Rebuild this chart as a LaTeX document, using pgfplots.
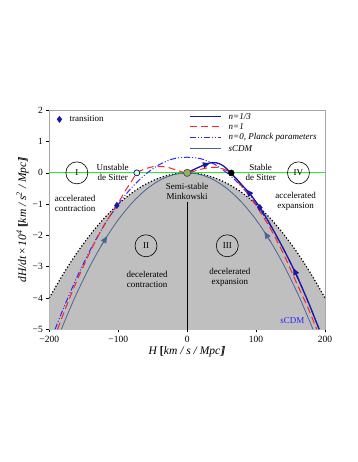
\documentclass[border=0pt]{standalone}
\usepackage{fontspec}
\setmainfont{Liberation Serif}
\usepackage{pgfplots}
\pgfplotsset{compat=1.18}
\usetikzlibrary{arrows.meta}

\definecolor{ncol}{RGB}{25,25,165}   % n=1/3
\definecolor{rcol}{RGB}{255,35,35}   % n=1
\definecolor{pcol}{RGB}{40,40,255}   % n=0 Planck
\definecolor{scol}{RGB}{75,100,150}  % sCDM
\definecolor{gcol}{RGB}{40,235,40}
\definecolor{ocol}{RGB}{150,180,90}
\newcommand{\dbl}[1]{[\kern-0.3em[#1]\kern-0.3em]}
\tikzset{
  ln13/.style={color=ncol, line width=1.3pt},
  ln1/.style={color=rcol, line width=1pt, dash pattern=on 7pt off 4pt},
  ln0/.style={color=pcol, line width=1pt, dash pattern=on 6pt off 2pt on 1pt off 2pt on 1pt off 2pt},
  lns/.style={color=scol, line width=0.8pt},
}

\begin{document}
\begin{tikzpicture}[
  lab/.style={font=\fontsize{9}{10}\selectfont, align=center},
  key/.style={font=\fontsize{9}{10}\selectfont\itshape, anchor=west, inner sep=0pt},
  zone/.style={draw, circle, minimum size=22pt, inner sep=0pt, line width=0.6pt,
    font=\fontsize{9}{10}\selectfont},
]
\useasboundingbox (-49.3pt,-132.7pt) rectangle (307.7pt,329.3pt);
\begin{axis}[
  at={(0,0)}, anchor=south west,
  width=275.7pt, height=219pt, scale only axis,
  xmin=-200, xmax=200, ymin=-5, ymax=2,
  xtick={-200,-100,0,100,200},
  xticklabels={−200,−100,0,100,200},
  ytick={-5,-4,-3,-2,-1,0,1,2},
  yticklabels={−5,−4,−3,−2,−1,0,1,2},
  tick label style={font=\fontsize{9.5}{10}\selectfont},
  tick pos=left, tick align=outside, major tick length=3pt,
  tick style={black, line width=0.5pt},
  axis line style={gray!70, line width=1pt},
  xlabel={{\itshape H} \dbl{\itshape km / s / Mpc}},
  ylabel={{\itshape dH/dt}\,×\,{\itshape 10\textsuperscript{4}} \dbl{\itshape km / s\textsuperscript{2} / Mpc}},
  xlabel style={at={(axis description cs:0.5,-0.104)}, anchor=center,
    font=\fontsize{11.5}{12}\selectfont},
  ylabel style={at={(axis description cs:-0.097,0.5)}, anchor=center,
    font=\fontsize{11.5}{12}\selectfont},
]

% decelerated region below dH/dt = -H^2
\addplot[fill=gray!50, draw=none, forget plot] coordinates {
  (-200,-5.5) (-200,-4) (-190,-3.61) (-180,-3.24) (-170,-2.89) (-160,-2.56)
  (-150,-2.25) (-140,-1.96) (-130,-1.69) (-120,-1.44) (-110,-1.21) (-100,-1)
  (-90,-0.81) (-80,-0.64) (-70,-0.49) (-60,-0.36) (-50,-0.25) (-40,-0.16)
  (-30,-0.09) (-20,-0.04) (-10,-0.01) (0,0) (10,-0.01) (20,-0.04) (30,-0.09)
  (40,-0.16) (50,-0.25) (60,-0.36) (70,-0.49) (80,-0.64) (90,-0.81) (100,-1)
  (110,-1.21) (120,-1.44) (130,-1.69) (140,-1.96) (150,-2.25) (160,-2.56)
  (170,-2.89) (180,-3.24) (190,-3.61) (200,-4) (200,-5.5)} -- cycle;

\addplot[black, line width=1.2pt, dotted, smooth, forget plot] coordinates {
  (-200,-4) (-180,-3.24) (-160,-2.56) (-140,-1.96) (-120,-1.44) (-100,-1)
  (-80,-0.64) (-60,-0.36) (-40,-0.16) (-20,-0.04) (0,0) (20,-0.04) (40,-0.16)
  (60,-0.36) (80,-0.64) (100,-1) (120,-1.44) (140,-1.96) (160,-2.56)
  (180,-3.24) (200,-4)};

\addplot[gcol, line width=1pt, forget plot] coordinates {(-200,0) (200,0)};
\addplot[black, line width=0.6pt, forget plot] coordinates {(0,-0.93) (0,-5.2)};

% sCDM
\addplot[lns, smooth, forget plot] coordinates {
  (-182.6,-5) (-170,-4.34) (-160,-3.84) (-140,-2.94) (-120,-2.16) (-100,-1.5)
  (-80,-0.96) (-60,-0.54) (-40,-0.24) (-20,-0.06) (0,0) (20,-0.06) (40,-0.24)
  (60,-0.54) (80,-0.96) (100,-1.5) (120,-2.16) (140,-2.94) (160,-3.84)
  (170,-4.34) (182.6,-5)};

% n=0, Planck parameters
\addplot[ln0, smooth, forget plot] coordinates {
  (-191.6,-5) (-180,-4.36) (-160,-3.34) (-140,-2.44) (-120,-1.66) (-100,-1.0)
  (-80,-0.46) (-60,-0.04) (-40,0.27) (-20,0.45) (0,0.5) (20,0.45) (40,0.27)
  (60,-0.04) (80,-0.46) (100,-1.0) (120,-1.66) (140,-2.44) (160,-3.34)
  (180,-4.36) (191.6,-5)};

% n=1
\addplot[ln1, smooth, forget plot] coordinates {
  (-188,-5) (-175,-4.25) (-160,-3.45) (-140,-2.49) (-120,-1.65) (-102,-1.04)
  (-90,-0.58) (-80,-0.25) (-73,0) (-63,0.11) (-53,0.18) (-44,0.21) (-29,0.18)
  (-14.5,0.08) (0,0) (14,0.08) (27,0.15) (40,0.18) (48,0.16) (57,0.08) (64,0)
  (72,-0.25) (80,-0.45) (90,-0.74) (100,-1.05) (120,-1.75) (140,-2.6)
  (160,-3.58) (175,-4.3) (188,-5)};

% n=1/3
\addplot[ln13, smooth, forget plot] coordinates {
  (0,0) (10,0.11) (20,0.21) (30,0.3) (38,0.33) (46,0.3) (54,0.2) (63,0)
  (72,-0.2) (80,-0.4) (90,-0.64) (100,-0.93) (105.5,-1.1) (120,-1.63)
  (140,-2.44) (157.6,-3.22) (175,-4.09) (191.5,-5)};

% flow arrows
\addplot[ncol, line width=1.2pt, -{Triangle[length=7pt,width=6pt]}, forget plot]
  coordinates {(22,0.23) (33,0.31)};
\addplot[ncol, line width=1.2pt, -{Triangle[length=7pt,width=6pt]}, forget plot]
  coordinates {(95,-0.78) (86,-0.53)};
\addplot[ncol, line width=1.2pt, -{Triangle[length=7pt,width=6pt]}, forget plot]
  coordinates {(162,-3.42) (154,-3.04)};
\addplot[scol, line width=0.8pt, -{Triangle[length=7pt,width=6pt]}, forget plot]
  coordinates {(121,-2.2) (112,-1.88)};
\addplot[scol, line width=0.8pt, -{Triangle[length=7pt,width=6pt]}, forget plot]
  coordinates {(-125,-2.34) (-116,-2.02)};

% key of the four curves (line samples drawn in the axis; the legend
% matrix lost the stroke colours under xdvipdfmx)
\addplot[ln13, forget plot] coordinates {(4.8,1.81) (48.4,1.81)};
\addplot[ln1, forget plot] coordinates {(4.8,1.47) (48.4,1.47)};
\addplot[ln0, forget plot] coordinates {(4.8,1.12) (48.4,1.12)};
\addplot[lns, forget plot] coordinates {(4.8,0.78) (48.4,0.78)};
\node[key] at (axis cs:60,1.81) {n=1/3};
\node[key] at (axis cs:60,1.47) {n=1};
\node[key] at (axis cs:60,1.12) {n=0, Planck parameters};
\node[key] at (axis cs:60,0.78) {sCDM};

% annotations
\node[zone] at (axis cs:-160,0) {I};
\node[zone] at (axis cs:161.5,0) {IV};
\node[zone] at (axis cs:-59.7,-2.33) {II};
\node[zone] at (axis cs:58.2,-2.33) {III};
\node[lab] at (axis cs:-162.5,-0.98) {accelerated\\contraction};
\node[lab] at (axis cs:-108,0) {Unstable\\de Sitter};
\node[lab] at (axis cs:0,-0.6) {Semi-stable\\Minkowski};
\node[lab] at (axis cs:106.7,0) {Stable\\de Sitter};
\node[lab] at (axis cs:157.5,-0.9) {accelerated\\expansion};
\node[lab] at (axis cs:-58,-3.4) {decelerated\\contraction};
\node[lab] at (axis cs:62,-3.35) {decelerated\\expansion};
\node[lab, text=pcol] at (axis cs:152.7,-4.73) {sCDM};
\end{axis}

% markers on top, with their own legend
\begin{axis}[
  at={(0,0)}, anchor=south west,
  width=275.7pt, height=219pt, scale only axis,
  xmin=-200, xmax=200, ymin=-5, ymax=2,
  hide axis, clip=false,
  legend cell align=left,
  legend style={draw=none, fill=none, at={(0.01,0.995)}, anchor=north west,
    font=\fontsize{9}{10}\selectfont},
  legend image code/.code={\draw[#1] plot coordinates {(4pt,0pt)}; \path (0pt,0pt) (12pt,0pt);},
]
\addplot[only marks, mark=diamond*, mark size=3.2pt, ncol] coordinates {
  (-102,-1.04) (105.5,-1.11)};
\addlegendentry{transition}
\addplot[only marks, mark=*, mark size=3pt, draw=ncol!60!black, fill=white!80!gcol,
  line width=0.7pt, forget plot] coordinates {(-73,0)};
\addplot[only marks, mark=*, mark size=3pt, black, forget plot] coordinates {(64,0)};
\addplot[only marks, mark=*, mark size=3.6pt, draw=gray!60!black, fill=ocol,
  line width=0.7pt, forget plot] coordinates {(0,0)};
\end{axis}
\end{tikzpicture}
\end{document}
